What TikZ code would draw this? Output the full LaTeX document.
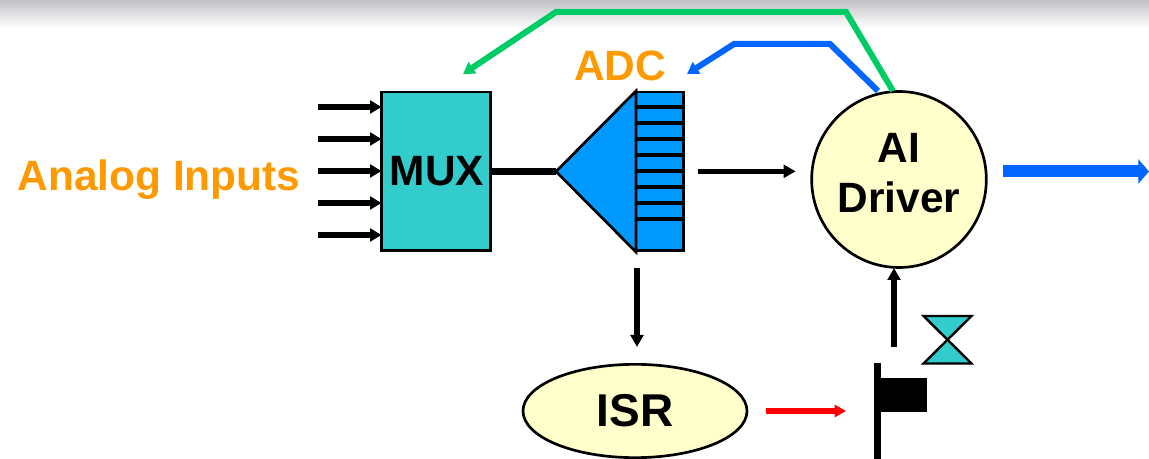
\documentclass[tikz,border=0pt]{standalone}
\usepackage{fontspec}
\setmainfont{Liberation Sans}
\usetikzlibrary{arrows.meta,calc,shapes.geometric}
\definecolor{labelorange}{HTML}{FF9900}
\definecolor{muxteal}{HTML}{33CCCC}
\definecolor{adcblue}{HTML}{0099FF}
\definecolor{drvcream}{HTML}{FFFFCC}
\definecolor{linkgreen}{HTML}{00CC66}
\definecolor{linkblue}{HTML}{0066FF}
\definecolor{topgrey}{HTML}{C2C2C6}
\tikzset{
  x=0.75pt,y=-0.75pt,
  blockoutline/.style={draw=black,line width=2pt,outer sep=0pt},
  boldtext/.style={font=\bfseries\fontsize{31.8pt}{37pt}\selectfont,align=center,inner sep=0pt},
  orangelabel/.style={boldtext,text=labelorange},
  sigarrow/.style={draw=black,line width=4.5pt,-{Triangle[length=8.5pt,width=9.5pt]}},
  thinarrow/.style={draw=black,line width=4.2pt,-{Triangle[length=9pt,width=9.5pt]}},
  fifoline/.style={draw=black,line width=2.4pt},
}
\begin{document}
\begin{tikzpicture}
\useasboundingbox (0,0) rectangle (1149,459);
\clip (0,0) rectangle (1149,459);
\fill[white] (0,0) rectangle (1149,459);
\shade[top color=topgrey,bottom color=white] (0,0) rectangle (1149,28);

% blocks
\node[blockoutline,fill=muxteal,minimum width=81.8pt,minimum height=119pt,anchor=north west,
      boldtext] (mux) at (381.5,92) {};
\node[boldtext] (muxtext) at ([xshift=0.7pt]mux.center) {MUX};
\node[blockoutline,fill=adcblue,minimum width=35.6pt,minimum height=119pt,inner sep=0pt,anchor=north west] (fifo) at (636,92) {};
\foreach \yy in {107,123,139,155,171,187,203,219} \draw[fifoline] (636,\yy) -- (684,\yy);
\coordinate (adctip) at (556,171.5);
\coordinate (adctop) at (636,91);
\coordinate (adcbot) at (636,252);
\filldraw[fill=adcblue,draw=black,line width=2pt,line join=miter] (adctip) -- (adctop) -- (adcbot) -- cycle;

\node[blockoutline,fill=drvcream,ellipse,minimum width=131pt,minimum height=132pt,boldtext] (ai) at (899,179.5) {};
\node[boldtext] (aitext) at (899,173) {AI\\Driver};
\node[blockoutline,fill=drvcream,ellipse,minimum width=168pt,minimum height=70pt,boldtext] (isr) at (635,411) {};
\node[boldtext,font=\bfseries\fontsize{34.5pt}{38pt}\selectfont] (isrtext) at (isr.center) {ISR};

% labels
\node[orangelabel] (analog) at (159,180) {Analog Inputs};
\node[orangelabel] (adc) at (620,66) {ADC};

% input arrows
\coordinate (in1) at (318,107);
\coordinate (in2) at (318,139);
\coordinate (in3) at (318,171);
\coordinate (in4) at (318,203);
\coordinate (in5) at (318,235);
\foreach \i in {1,...,5} \draw[sigarrow] (in\i) -- (in\i -| mux.west);

% mux to adc
\draw[draw=black,line width=4.8pt] (mux.east |- adctip) -- (adctip);

% fifo to driver
\draw[thinarrow,shorten <=11pt,shorten >=12pt] (fifo.east) -- (fifo.east -| ai.west);

% fifo to isr
\coordinate (downstart) at (637,268);
\coordinate (downend) at (637,347);
\draw[thinarrow] (downstart) -- (downend);

% semaphore flag
\node[fill=black,minimum width=5.25pt,minimum height=72pt,inner sep=0pt,outer sep=0pt,anchor=north] (pole) at (877.5,363) {};
\node[fill=black,minimum width=34.5pt,minimum height=25.5pt,inner sep=0pt,outer sep=0pt,anchor=north west] (flag) at (881,378) {};

% isr to flag
\coordinate (redstart) at (766,411);
\coordinate (redend) at (846,411);
\draw[draw=red,line width=4.2pt,-{Triangle[length=8.5pt,width=9pt]}] (redstart) -- (redend);

% flag to driver
\coordinate (upstart) at (894,347);
\coordinate (upend) at (894,268);
\draw[thinarrow] (upstart) -- (upend);

% hourglass
\coordinate (hgtl) at (923.5,316);
\coordinate (hgtr) at (971.5,316);
\coordinate (hgbl) at (923.5,363.5);
\coordinate (hgbr) at (971.5,363.5);
\filldraw[fill=muxteal,draw=black,line width=1.8pt,line join=miter] (hgtl) -- (hgtr) -- (hgbl) -- (hgbr) -- cycle;

% output
\coordinate (outend) at (1149,171.5);
\coordinate (outstart) at (1003,171.5);
\draw[draw=linkblue,line width=9pt,-{Triangle[length=8pt,width=18pt]}] (outstart) -- (outend);

% feedback links
\coordinate (gbendr) at (846,12);
\coordinate (gbendl) at (556,12);
\coordinate (gstart) at (893,91);
\coordinate (gend) at (463,74);
\draw[draw=linkgreen,line width=4.5pt,line join=miter,-{Triangle[length=8.5pt,width=10pt]}] (gstart) -- (gbendr) -- (gbendl) -- (gend);
\coordinate (bbendr) at (830,44);
\coordinate (bbendl) at (734,44);
\coordinate (bstart) at (878,91);
\coordinate (bend) at (687,74);
\draw[draw=linkblue,line width=4.5pt,line join=miter,-{Triangle[length=8.5pt,width=10pt]}] (bstart) -- (bbendr) -- (bbendl) -- (bend);
\end{tikzpicture}
\end{document}
